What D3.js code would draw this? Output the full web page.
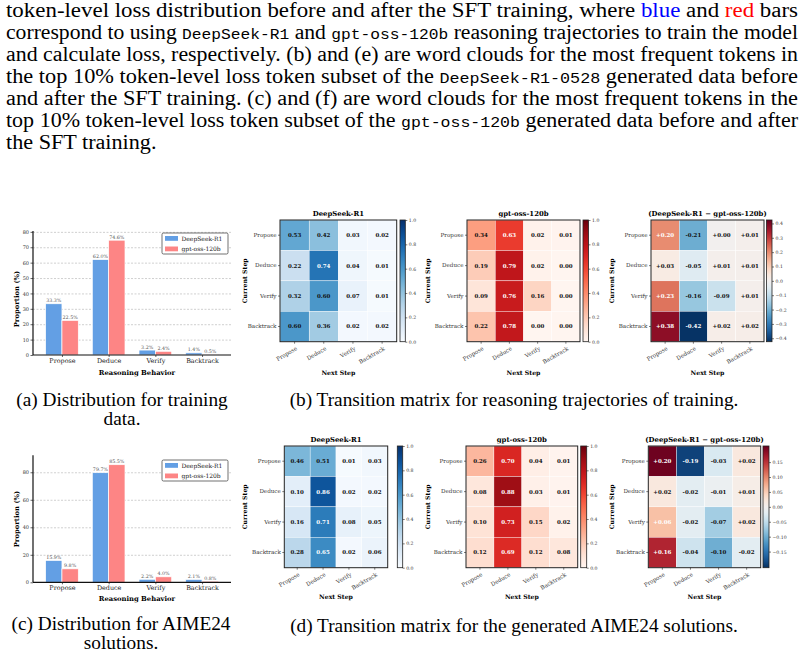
<!DOCTYPE html>
<meta charset="utf-8">
<style>
body { margin: 0; background: #fff; }
svg text { font-family: "DejaVu Serif", serif; }
</style>
<body>
<script src="https://d3js.org/d3.v7.min.js"></script>
<script>

// ---- data ----
var behaviors = ["Propose", "Deduce", "Verify", "Backtrack"];
var models = ["DeepSeek-R1", "gpt-oss-120b"];

// (a) training data, (c) AIME24 solutions  -- proportion (%)
var trainDS  = [33.3, 62.0, 3.2, 1.4];
var trainGPT = [22.5, 74.6, 2.4, 0.5];
var aimeDS   = [15.9, 79.7, 2.2, 2.1];
var aimeGPT  = [9.8, 85.5, 4.0, 0.8];
var trainTicks = [0, 10, 20, 30, 40, 50, 60, 70, 80];
var aimeTicks  = [0, 20, 40, 60, 80];

// transition matrices (row = current step, col = next step)
var transTrainDS = [
  [0.53, 0.42, 0.03, 0.02],
  [0.22, 0.74, 0.04, 0.01],
  [0.32, 0.60, 0.07, 0.01],
  [0.60, 0.36, 0.02, 0.02]
];
var transTrainGPT = [
  [0.34, 0.63, 0.02, 0.01],
  [0.19, 0.79, 0.02, 0.00],
  [0.09, 0.76, 0.16, 0.00],
  [0.22, 0.78, 0.00, 0.00]
];
var transTrainDiff = [
  [0.20, -0.21, 0.00, 0.01],
  [0.03, -0.05, 0.01, 0.01],
  [0.23, -0.16, -0.09, 0.01],
  [0.38, -0.42, 0.02, 0.02]
];
var transAimeDS = [
  [0.46, 0.51, 0.01, 0.03],
  [0.10, 0.86, 0.02, 0.02],
  [0.16, 0.71, 0.08, 0.05],
  [0.28, 0.65, 0.02, 0.06]
];
var transAimeGPT = [
  [0.26, 0.70, 0.04, 0.01],
  [0.08, 0.88, 0.03, 0.01],
  [0.10, 0.73, 0.15, 0.02],
  [0.12, 0.69, 0.12, 0.08]
];
var transAimeDiff = [
  [0.20, -0.19, -0.03, 0.02],
  [0.02, -0.02, -0.01, 0.01],
  [0.06, -0.02, -0.07, 0.02],
  [0.16, -0.04, -0.10, -0.02]
];
var probTicks = [0, 0.2, 0.4, 0.6, 0.8, 1.0];
var diffTrainTicks = [-0.4, -0.3, -0.2, -0.1, 0, 0.1, 0.2, 0.3, 0.4];
var diffAimeTicks = [-0.15, -0.10, -0.05, 0, 0.05, 0.10, 0.15];

var blue = "#639fe4", red = "#fd8585";

var svg = d3.select("body").append("svg")
    .attr("width", 805)
    .attr("height", 658);

// ---- paragraph at the top (justified lines) ----
var paraLines = [
  [["token-level loss distribution before and after the SFT training, where ", "n"], ["blue", "b"], [" and ", "n"], ["red", "r"], [" bars", "n"]],
  [["correspond to using ", "n"], ["DeepSeek-R1", "m"], [" and ", "n"], ["gpt-oss-120b", "m"], [" reasoning trajectories to train the model", "n"]],
  [["and calculate loss, respectively. (b) and (e) are word clouds for the most frequent tokens in", "n"]],
  [["the top 10% token-level loss token subset of the ", "n"], ["DeepSeek-R1-0528", "m"], [" generated data before", "n"]],
  [["and after the SFT training. (c) and (f) are word clouds for the most frequent tokens in the", "n"]],
  [["top 10% token-level loss token subset of the ", "n"], ["gpt-oss-120b", "m"], [" generated data before and after", "n"]],
  [["the SFT training.", "n"]]
];
var paraLeft = 6, paraRight = 798;
var ratios = [];
paraLines.forEach(function(line, i) {
  var t = svg.append("text")
      .attr("x", paraLeft)
      .attr("y", 17 + i * 22)
      .style("font-family", "'Liberation Serif', serif")
      .style("font-size", "20px")
      .attr("fill", "#000");
  line.forEach(function(seg) {
    var ts = t.append("tspan").text(seg[0]);
    if (seg[1] == "m") ts.style("font-family", "'Liberation Mono', monospace").style("font-size", "15px");
    if (seg[1] == "b") ts.attr("fill", "#0000ff");
    if (seg[1] == "r") ts.attr("fill", "#ff0000");
  });
  var w = t.node().getComputedTextLength();
  if (i < paraLines.length - 1) {
    ratios.push((paraRight - paraLeft) / w);
    t.attr("textLength", paraRight - paraLeft).attr("lengthAdjust", "spacingAndGlyphs");
  } else {
    t.attr("textLength", w * d3.mean(ratios)).attr("lengthAdjust", "spacingAndGlyphs");
  }
});

// ---- captions ----
function caption(lines, cx, y0) {
  lines.forEach(function(s, i) {
    svg.append("text")
      .attr("x", cx)
      .attr("y", y0 + i * 19)
      .attr("text-anchor", "middle")
      .style("font-family", "'Liberation Serif', serif")
      .style("font-size", "19.3px")
      .text(s);
  });
}
caption(["(a) Distribution for training", "data."], 122, 406);
caption(["(b) Transition matrix for reasoning trajectories of training."], 514, 406);
caption(["(c) Distribution for AIME24", "solutions."], 121, 630);
caption(["(d) Transition matrix for the generated AIME24 solutions."], 514, 632);

// ---- bar charts ----
function barChart(cfg) {
  var g = svg.append("g");
  var x = d3.scaleLinear().domain([-0.62, 3.62]).range([cfg.left, cfg.right]);
  var y = d3.scaleLinear().domain([0, cfg.ymax]).range([cfg.bottom, cfg.top]);
  var bw = x(0.35) - x(0);

  // grid
  g.append("g")
      .attr("transform", "translate(" + cfg.left + ",0)")
      .call(d3.axisLeft(y).tickValues(cfg.ticks.filter(function(t) { return t > 0; }))
          .tickSize(-(cfg.right - cfg.left)).tickFormat(""))
      .call(function(a) { a.select(".domain").remove(); })
      .selectAll("line")
      .attr("stroke", "#b0b0b0")
      .attr("stroke-width", 0.6)
      .attr("stroke-dasharray", "2,1.5");

  var series = [
    {vals: cfg.ds, color: blue, off: -0.175},
    {vals: cfg.gpt, color: red, off: 0.175}
  ];
  series.forEach(function(s) {
    g.selectAll(null).data(s.vals).join("rect")
        .attr("x", function(d, i) { return x(i + s.off) - bw / 2; })
        .attr("y", function(d) { return y(d); })
        .attr("width", bw)
        .attr("height", function(d) { return y(0) - y(d); })
        .attr("fill", s.color)
        .attr("stroke", "#fff")
        .attr("stroke-width", 0.7);
    g.selectAll(null).data(s.vals).join("text")
        .attr("x", function(d, i) { return x(i + s.off); })
        .attr("y", function(d) { return y(d) - 1.5; })
        .attr("text-anchor", "middle")
        .style("font-size", "4.8px")
        .attr("fill", "#555")
        .text(function(d) { return d.toFixed(1) + "%"; });
  });

  // y axis
  var ya = g.append("g")
      .attr("transform", "translate(" + cfg.left + ",0)")
      .call(d3.axisLeft(y).tickValues(cfg.ticks).tickSize(2.5).tickPadding(1.5).tickFormat(d3.format("d")));
  ya.select(".domain").remove();
  ya.selectAll("text").style("font-size", "5px").attr("fill", "#333");
  ya.selectAll("line").attr("stroke", "#222").attr("stroke-width", 0.7);

  // x axis
  var xa = g.append("g")
      .attr("transform", "translate(0," + cfg.bottom + ")")
      .call(d3.axisBottom(x).tickValues([0, 1, 2, 3]).tickSize(2).tickPadding(1.5)
          .tickFormat(function(i) { return behaviors[i]; }));
  xa.select(".domain").remove();
  xa.selectAll("text").style("font-size", "6.4px").attr("fill", "#222");
  xa.selectAll("line").attr("stroke", "#222").attr("stroke-width", 0.7);

  // spines
  g.append("line").attr("x1", cfg.left).attr("x2", cfg.left)
      .attr("y1", cfg.top).attr("y2", cfg.bottom)
      .attr("stroke", "#111").attr("stroke-width", 1.2);
  g.append("line").attr("x1", cfg.left).attr("x2", cfg.right)
      .attr("y1", cfg.bottom).attr("y2", cfg.bottom)
      .attr("stroke", "#111").attr("stroke-width", 1.2);

  // labels
  g.append("text")
      .attr("x", (cfg.left + cfg.right) / 2 + 5)
      .attr("y", cfg.xlabelY)
      .attr("text-anchor", "middle")
      .style("font-size", "6.8px")
      .style("font-weight", "bold")
      .text("Reasoning Behavior");
  g.append("text")
      .attr("transform", "translate(" + 19 + "," + cfg.ylabelY + ") rotate(-90)")
      .attr("text-anchor", "middle")
      .style("font-size", "6.8px")
      .style("font-weight", "bold")
      .text("Proportion (%)");

  // legend
  var lg = g.append("g").attr("transform", "translate(162," + cfg.legendTop + ")");
  lg.append("rect").attr("width", 66).attr("height", 21).attr("rx", 1.5)
      .attr("fill", "#fff").attr("stroke", "#333").attr("stroke-width", 0.7);
  [blue, red].forEach(function(c, i) {
    lg.append("rect").attr("x", 3).attr("y", 3 + i * 10.5).attr("width", 13).attr("height", 4.8).attr("fill", c);
    lg.append("text").attr("x", 19.5).attr("y", 7.6 + i * 10.5)
        .style("font-size", "6px").attr("fill", "#222").text(models[i]);
  });
}

barChart({left: 33, right: 231, top: 231, bottom: 355, ymax: d3.max(trainGPT) * 1.08,
          ticks: trainTicks, ds: trainDS, gpt: trainGPT,
          xlabelY: 374.5, ylabelY: 299, legendTop: 233});
barChart({left: 33, right: 231, top: 455.3, bottom: 582.3, ymax: d3.max(aimeGPT) * 1.08,
          ticks: aimeTicks, ds: aimeDS, gpt: aimeGPT,
          xlabelY: 600.8, ylabelY: 519, legendTop: 460});

// ---- heatmaps ----
var gradId = 0;
function heatmap(cfg) {
  var g = svg.append("g");
  var x = d3.scaleBand().domain(behaviors).range([cfg.x0, cfg.x1]);
  var y = d3.scaleBand().domain(behaviors).range([cfg.y0, cfg.y1]);
  var cells = [];
  cfg.data.forEach(function(row, i) {
    row.forEach(function(v, j) { cells.push({r: behaviors[i], c: behaviors[j], v: v}); });
  });

  g.selectAll("rect.cell").data(cells).join("rect")
      .attr("class", "cell")
      .attr("x", function(d) { return x(d.c); })
      .attr("y", function(d) { return y(d.r); })
      .attr("width", x.bandwidth())
      .attr("height", y.bandwidth())
      .attr("fill", function(d) { return cfg.color(d.v); })
      .attr("stroke", "#fff")
      .attr("stroke-width", 0.4);

  g.selectAll("text.val").data(cells).join("text")
      .attr("class", "val")
      .attr("x", function(d) { return x(d.c) + x.bandwidth() / 2; })
      .attr("y", function(d) { return y(d.r) + y.bandwidth() / 2; })
      .attr("dy", "0.35em")
      .attr("text-anchor", "middle")
      .style("font-size", "5.5px")
      .style("font-weight", "bold")
      .attr("fill", function(d) { return cfg.white(d.v) ? "#fff" : "#111"; })
      .text(function(d) { return cfg.fmt(d.v); });

  // frame
  g.append("rect").attr("x", cfg.x0).attr("y", cfg.y0)
      .attr("width", cfg.x1 - cfg.x0).attr("height", cfg.y1 - cfg.y0)
      .attr("fill", "none").attr("stroke", "#222").attr("stroke-width", 1);

  // axes
  var ya = g.append("g").attr("transform", "translate(" + cfg.x0 + ",0)")
      .call(d3.axisLeft(y).tickSize(2).tickPadding(1.5));
  ya.select(".domain").remove();
  ya.selectAll("text").style("font-size", "5.6px").attr("fill", "#333");
  ya.selectAll("line").attr("stroke", "#222").attr("stroke-width", 0.6);

  var xa = g.append("g").attr("transform", "translate(0," + cfg.y1 + ")")
      .call(d3.axisBottom(x).tickSize(2).tickPadding(1.5));
  xa.select(".domain").remove();
  xa.selectAll("line").attr("stroke", "#222").attr("stroke-width", 0.6);
  xa.selectAll("text")
      .attr("text-anchor", "end")
      .attr("dy", null)
      .attr("y", null)
      .attr("transform", "translate(3,8) rotate(-30)")
      .style("font-size", "5.6px")
      .attr("fill", "#333");

  // labels
  g.append("text")
      .attr("x", (cfg.x0 + cfg.x1) / 2).attr("y", cfg.titleY)
      .attr("text-anchor", "middle")
      .style("font-size", "6.9px").style("font-weight", "bold")
      .text(cfg.title);
  g.append("text")
      .attr("x", (cfg.x0 + cfg.x1) / 2).attr("y", cfg.nextY)
      .attr("text-anchor", "middle")
      .style("font-size", "6.2px").style("font-weight", "bold")
      .text("Next Step");
  g.append("text")
      .attr("transform", "translate(" + cfg.csX + "," + ((cfg.y0 + cfg.y1) / 2) + ") rotate(-90)")
      .attr("text-anchor", "middle")
      .attr("dy", "0.35em")
      .style("font-size", "6.2px").style("font-weight", "bold")
      .text("Current Step");

  // colorbar
  var dom = cfg.color.domain();
  var vmin = dom[0], vmax = dom[dom.length - 1];
  var id = "cb" + (gradId++);
  var grad = svg.append("defs").append("linearGradient").attr("id", id)
      .attr("x1", 0).attr("y1", 1).attr("x2", 0).attr("y2", 0);
  d3.range(0, 1.0001, 0.05).forEach(function(t) {
    grad.append("stop").attr("offset", t).attr("stop-color", cfg.color(vmin + t * (vmax - vmin)));
  });
  g.append("rect").attr("x", cfg.cb[0]).attr("y", cfg.y0)
      .attr("width", cfg.cb[1] - cfg.cb[0]).attr("height", cfg.y1 - cfg.y0)
      .attr("fill", "url(#" + id + ")")
      .attr("stroke", "#222").attr("stroke-width", 0.8);
  var cy = d3.scaleLinear().domain([vmin, vmax]).range([cfg.y1, cfg.y0]);
  var ca = g.append("g").attr("transform", "translate(" + cfg.cb[1] + ",0)")
      .call(d3.axisRight(cy).tickValues(cfg.cbTicks).tickSize(2).tickPadding(1.5).tickFormat(cfg.cbFmt));
  ca.select(".domain").remove();
  ca.selectAll("text").style("font-size", "4.6px").attr("fill", "#333");
  ca.selectAll("line").attr("stroke", "#222").attr("stroke-width", 0.6);
}

var seqFmt = function(v) { return v.toFixed(2); };
var diffFmt = function(v) { return (v < 0 ? "-" : "+") + Math.abs(v).toFixed(2); };
var seqWhite = function(v) { return v > 0.6; };
function divWhite(vmax) {
  return function(v) { var t = (v + vmax) / (2 * vmax); return t > 0.6 || t < 0.2; };
}
var blues = d3.scaleSequential(d3.interpolateBlues).domain([0, 1]);
var reds = d3.scaleSequential(d3.interpolateReds).domain([0, 1]);
function rdbu(vmax) {
  return d3.scaleDiverging(function(t) { return d3.interpolateRdBu(1 - t); }).domain([-vmax, 0, vmax]);
}
var vmaxTrain = d3.max(transTrainDiff.flat(), Math.abs) + 0.004;
var vmaxAime = d3.max(transAimeDiff.flat(), Math.abs) + 0.004;

var rows = [
  {y0: 220, y1: 341.7, titleY: 215.5, nextY: 374.5,
   mats: [transTrainDS, transTrainGPT, transTrainDiff], vmax: vmaxTrain, dTicks: diffTrainTicks, dFmt: d3.format(".1f"),
   xs: [[280, 396.7], [467, 580], [651, 764]], cbs: [[400, 405.3], [583, 588.5], [766.5, 772]]},
  {y0: 446, y1: 567.7, titleY: 441.5, nextY: 599,
   mats: [transAimeDS, transAimeGPT, transAimeDiff], vmax: vmaxAime, dTicks: diffAimeTicks, dFmt: d3.format(".2f"),
   xs: [[284.3, 387.7], [466, 577.7], [648.3, 760.7]], cbs: [[397.3, 402.7], [580.7, 586.7], [763, 769]]}
];
var titles = ["DeepSeek-R1", "gpt-oss-120b", "(DeepSeek-R1 \u2212 gpt-oss-120b)"];
var csXs = [245, 428, 612];

rows.forEach(function(r) {
  [0, 1, 2].forEach(function(k) {
    var diff = k == 2;
    heatmap({
      x0: r.xs[k][0], x1: r.xs[k][1], y0: r.y0, y1: r.y1,
      cb: r.cbs[k], csX: csXs[k], titleY: r.titleY, nextY: r.nextY,
      title: titles[k], data: r.mats[k],
      color: diff ? rdbu(r.vmax) : (k == 0 ? blues : reds),
      fmt: diff ? diffFmt : seqFmt,
      white: diff ? divWhite(r.vmax) : seqWhite,
      cbTicks: diff ? r.dTicks : probTicks,
      cbFmt: diff ? r.dFmt : d3.format(".1f")
    });
  });
});

</script>
